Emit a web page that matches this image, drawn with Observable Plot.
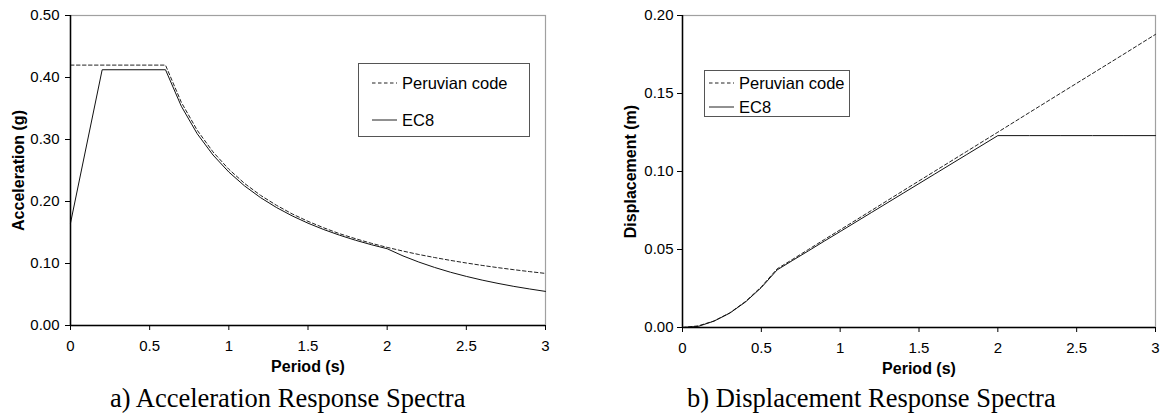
<!DOCTYPE html>
<html>
<head>
<meta charset="utf-8">
<script src="https://cdn.jsdelivr.net/npm/d3@7"></script>
<script src="https://cdn.jsdelivr.net/npm/@observablehq/plot@0.6"></script>
<style>
  html, body { margin: 0; padding: 0; background: #fff; }
  #root { position: relative; width: 1165px; height: 414px; overflow: hidden; font-family: "Liberation Sans", Arial, sans-serif; }
  .chart { position: absolute; top: 0; }
  .legend { position: absolute; border: 1px solid #555; background: #fff; font-size: 16.5px; color: #000; box-sizing: border-box; }
  .legend .item { position: absolute; display: flex; align-items: center; white-space: nowrap; }
  .legend svg { display: block; margin-right: 5px; }
  .caption { position: absolute; font-family: "Liberation Serif", "Times New Roman", serif; font-size: 26.5px; line-height: 27px; white-space: nowrap; color: #000; }
</style>
</head>
<body>
<div id="root"></div>
<script>
// ---- Data ----
const seriesNames = ["Peruvian code", "EC8"];

// Acceleration response spectra (g)
const accPeriodPeru = [0, 0.6, 0.7, 0.8, 0.9, 1.0, 1.1, 1.2, 1.3, 1.4, 1.5, 1.6, 1.7, 1.8, 1.9, 2.0, 2.1, 2.2, 2.3, 2.4, 2.5, 2.6, 2.7, 2.8, 2.9, 3.0];
const accPeru = [0.42, 0.42, 0.36, 0.315, 0.28, 0.252, 0.229, 0.21, 0.194, 0.18, 0.168, 0.1575, 0.148, 0.14, 0.1326, 0.126, 0.12, 0.1145, 0.1096, 0.105, 0.1008, 0.0969, 0.0933, 0.09, 0.0869, 0.084];
const accPeriodEC8 = [0, 0.2, 0.6, 0.7, 0.8, 0.9, 1.0, 1.1, 1.2, 1.3, 1.4, 1.5, 1.6, 1.7, 1.8, 1.9, 2.0, 2.1, 2.2, 2.3, 2.4, 2.5, 2.6, 2.7, 2.8, 2.9, 3.0];
const accEC8 = [0.165, 0.4125, 0.4125, 0.3536, 0.3094, 0.275, 0.2475, 0.225, 0.2063, 0.1904, 0.1768, 0.165, 0.1547, 0.1456, 0.1375, 0.1303, 0.1238, 0.1122, 0.1023, 0.0936, 0.0859, 0.0792, 0.0732, 0.0679, 0.0631, 0.0589, 0.055];

// Displacement response spectra (m)
const dispPeriodPeru = [0, 0.1, 0.2, 0.3, 0.4, 0.5, 0.6, 0.7, 0.8, 0.9, 1.0, 1.2, 1.4, 1.6, 1.8, 2.0, 2.2, 2.4, 2.6, 2.8, 3.0];
const dispPeru = [0, 0.00104, 0.00417, 0.00939, 0.0167, 0.0261, 0.0376, 0.0438, 0.0501, 0.0564, 0.0626, 0.0751, 0.0877, 0.1002, 0.1127, 0.1252, 0.1378, 0.1503, 0.1628, 0.1753, 0.1879];
const dispPeriodEC8 = [0, 0.1, 0.2, 0.3, 0.4, 0.5, 0.6, 0.7, 0.8, 0.9, 1.0, 1.2, 1.4, 1.6, 1.8, 2.0, 2.2, 2.4, 2.6, 2.8, 3.0];
const dispEC8 = [0, 0.00072, 0.0041, 0.00922, 0.0164, 0.0256, 0.0369, 0.0431, 0.0492, 0.0554, 0.0615, 0.0738, 0.0861, 0.0984, 0.1107, 0.123, 0.123, 0.123, 0.123, 0.123, 0.123];

// Tick labels
const xTicks = [0, 0.5, 1, 1.5, 2, 2.5, 3];
const accTicks = [0, 0.1, 0.2, 0.3, 0.4, 0.5];
const dispTicks = [0, 0.05, 0.1, 0.15, 0.2];

const captions = ["a) Acceleration Response Spectra", "b) Displacement Response Spectra"];
const yLabels = ["Acceleration (g)", "Displacement (m)"];
const xLabel = "Period (s)";

// ---- Build tables ----
const zip = (xs, ys) => xs.map((x, i) => ({T: x, v: ys[i]}));
const accPeruData = zip(accPeriodPeru, accPeru);
const accEC8Data = zip(accPeriodEC8, accEC8);
const dispPeruData = zip(dispPeriodPeru, dispPeru);
const dispEC8Data = zip(dispPeriodEC8, dispEC8);

const root = document.getElementById("root");

function makeChart({peru, ec8, yDomain, yTicks, yLabel, width, height, marginLeft, marginRight, tickPadY}) {
  return Plot.plot({
    width, height,
    marginLeft, marginRight, marginTop: 15, marginBottom: 55,
    style: {fontFamily: "'Liberation Sans', Arial, sans-serif", fontSize: "15px", color: "#000", background: "transparent"},
    x: {domain: [0, 3]},
    y: {domain: yDomain},
    marks: [
      Plot.frame({stroke: "#a0a0a0", strokeWidth: 1.2}),
      Plot.line(peru, {x: "T", y: "v", stroke: "#222", strokeWidth: 1, strokeDasharray: "3.5,2.5"}),
      Plot.line(ec8, {x: "T", y: "v", stroke: "#111", strokeWidth: 1}),
      Plot.ruleX([0], {stroke: "#000", strokeWidth: 1.5}),
      Plot.ruleY([0], {stroke: "#000", strokeWidth: 1.5}),
      Plot.axisX(xTicks, {tickSize: 5, tickPadding: 10, tickFormat: d => String(d), stroke: "#000", fontSize: 15,
        label: xLabel, labelAnchor: "center", labelArrow: "none", labelOffset: 46}),
      Plot.axisY(yTicks, {tickSize: 5, tickPadding: tickPadY, tickFormat: d3.format(".2f"), stroke: "#000", fontSize: 15,
        label: yLabel, labelAnchor: "center", labelArrow: "none", labelOffset: 58})
    ]
  });
}

const left = makeChart({peru: accPeruData, ec8: accEC8Data, yDomain: [0, 0.5], yTicks: accTicks, yLabel: yLabels[0],
  width: 560, height: 380, marginLeft: 70, marginRight: 15, tickPadY: 6});
left.classList.add("chart");
left.style.left = "0px";
root.appendChild(left);

const right = makeChart({peru: dispPeruData, ec8: dispEC8Data, yDomain: [0, 0.2], yTicks: dispTicks, yLabel: yLabels[1],
  width: 585, height: 382, marginLeft: 102, marginRight: 10, tickPadY: 4});
right.classList.add("chart");
right.style.left = "580px";
root.appendChild(right);

// bold axis titles
for (const svg of [left, right]) {
  svg.querySelectorAll("g[aria-label='x-axis label'] text, g[aria-label='y-axis label'] text").forEach(t => {
    t.setAttribute("font-weight", "bold");
    t.setAttribute("font-size", "16");
  });
}

// Legends
function makeLegend(x, y, w, h, rows) {
  const div = document.createElement("div");
  div.className = "legend";
  Object.assign(div.style, {left: x + "px", top: y + "px", width: w + "px", height: h + "px"});
  rows.forEach(r => {
    const item = document.createElement("div");
    item.className = "item";
    item.style.left = r.lx + "px";
    item.style.top = (r.cy - 10) + "px";
    item.style.height = "20px";
    const s = d3.create("svg").attr("width", r.lw).attr("height", 4);
    s.append("line").attr("x1", 0).attr("x2", r.lw).attr("y1", 2).attr("y2", 2)
      .attr("stroke", "#222").attr("stroke-width", 1).attr("stroke-dasharray", r.dash || null);
    item.appendChild(s.node());
    const t = document.createElement("span");
    t.textContent = r.name;
    item.appendChild(t);
    div.appendChild(item);
  });
  root.appendChild(div);
}
makeLegend(358, 63, 172, 74, [
  {name: seriesNames[0], dash: "3.5,2.5", lx: 13, lw: 25, cy: 19},
  {name: seriesNames[1], dash: null, lx: 13, lw: 25, cy: 56}
]);
makeLegend(704, 70, 146, 47, [
  {name: seriesNames[0], dash: "3.5,2.5", lx: 4, lw: 25, cy: 12},
  {name: seriesNames[1], dash: null, lx: 4, lw: 25, cy: 36}
]);

// Captions
[[110, captions[0]], [687, captions[1]]].forEach(([x, txt]) => {
  const d = document.createElement("div");
  d.className = "caption";
  d.textContent = txt;
  d.style.left = x + "px";
  d.style.top = "385px";
  root.appendChild(d);
});
</script>
</body>
</html>
